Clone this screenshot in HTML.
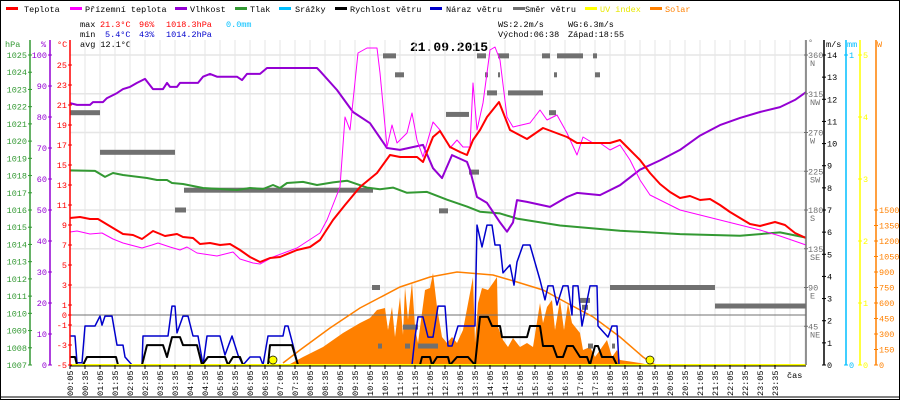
<!DOCTYPE html>
<html><head><meta charset="utf-8"><style>
html,body{margin:0;padding:0;background:#fff}
svg{display:block;font-family:"Liberation Mono",monospace;font-size:8.5px}
</style></head><body>
<svg id="chart" width="900" height="400" viewBox="0 0 900 400" xmlns="http://www.w3.org/2000/svg">
<rect x="0.5" y="0.5" width="899" height="399" fill="#fff" stroke="#000"/>
<g id="legend">
 <g><rect x="6" y="7" width="12" height="3" fill="#f00"/><text x="24" y="12">Teplota</text></g>
 <g><rect x="70" y="7" width="12" height="3" fill="#f0f"/><text x="85" y="12">Přízemní teplota</text></g>
 <g><rect x="175" y="7" width="12" height="3" fill="#9400d3"/><text x="190" y="12">Vlhkost</text></g>
 <g><rect x="235" y="7" width="12" height="3" fill="#339933"/><text x="250" y="12">Tlak</text></g>
 <g><rect x="279" y="7" width="12" height="3" fill="#00bfff"/><text x="295" y="12">Srážky</text></g>
 <g><rect x="335" y="7" width="12" height="3" fill="#000"/><text x="350" y="12">Rychlost větru</text></g>
 <g><rect x="430" y="7" width="12" height="3" fill="#0000cc"/><text x="446" y="12">Náraz větru</text></g>
 <g><rect x="513" y="7" width="12" height="3" fill="#707070"/><text x="525" y="12">Směr větru</text></g>
 <g><rect x="585" y="7" width="12" height="3" fill="#ff0"/><text x="600" y="12" fill="#e8e800">UV index</text></g>
 <g><rect x="650" y="7" width="12" height="3" fill="#ff8000"/><text x="665" y="12" fill="#ff8000">Solar</text></g>
</g>
<g>
 <text x="80" y="27">max</text><text x="100" y="27" fill="#f00">21.3°C</text><text x="139" y="27" fill="#f00">96%</text><text x="166" y="27" fill="#f00">1018.3hPa</text><text x="226" y="27" fill="#00bfff">0.0mm</text>
 <text x="80" y="37">min</text><text x="105" y="37" fill="#0000cc">5.4°C</text><text x="139" y="37" fill="#0000cc">43%</text><text x="166" y="37" fill="#0000cc">1014.2hPa</text>
 <text x="80" y="47">avg 12.1°C</text>
 <text x="498" y="27">WS:2.2m/s</text><text x="568" y="27">WG:6.3m/s</text>
 <text x="498" y="37">Východ:06:38</text><text x="568" y="37">Západ:18:55</text>
</g>
<text x="449" y="51" text-anchor="middle" font-size="13" font-weight="bold">21.09.2015</text>
<g id="g"></g>
</svg>
<script>
// ---- data (time in minutes from 00:05) ----
const tempT=[0,20,40,56,86,106,126,144,166,190,214,226,246,260,280,300,320,340,360,380,400,420,454,480,500,526,550,580,614,640,660,694,706,726,740,760,780,794,806,820,834,858,880,914,946,994,1014,1060,1080,1100,1120,1140,1160,1180,1200,1220,1240,1260,1280,1300,1320,1340,1360,1380,1410,1430,1450,1472];
const tempV=[9.7,9.8,9.6,9.6,8.7,8.1,8.0,7.6,8.4,7.9,8.1,7.8,7.7,7.1,7.2,7.0,7.1,6.5,5.8,5.3,5.7,5.8,6.5,6.8,7.5,9.5,11.0,12.8,14.2,16.0,15.8,15.8,15.3,17.8,18.4,16.8,16.3,16.0,17.5,18.5,19.8,21.3,18.5,17.6,18.7,17.8,17.2,17.2,17.2,17.5,16.5,15.5,14.2,13.1,12.3,11.7,11.9,11.5,11.6,11.0,10.3,9.7,9.1,8.9,9.3,9.0,8.2,7.7];
const feelT=[0,14,40,64,86,106,144,164,176,200,220,234,254,294,326,340,366,380,406,454,500,514,540,550,560,576,594,614,620,634,644,654,674,684,694,706,726,740,760,774,786,800,806,814,826,834,840,850,860,874,886,920,940,954,974,994,1014,1026,1046,1060,1080,1100,1120,1140,1160,1180,1220,1260,1300,1340,1380,1420,1472];
const feelV=[8.3,8.4,8.1,8.2,7.6,7.2,6.7,7.0,7.2,6.8,6.5,6.8,6.2,5.9,6.3,5.6,5.2,5.1,5.8,6.7,8.2,9.5,12.8,19.8,18.5,26.2,26.7,26.7,24.2,16.8,19.0,17.2,18.2,20.2,17.5,15.8,19.3,18.5,16.7,17.5,16.8,16.8,23.2,18.5,21.2,24.2,26.5,26.8,25.5,19.8,18.8,19.2,20.5,19.5,20.0,18.2,16.0,17.8,17.2,17.2,16.5,17.0,15.5,13.5,12.0,11.5,10.5,10.0,9.5,9.0,8.5,7.9,7.0];
const humT=[0,14,40,46,66,74,94,106,120,134,150,166,186,194,200,214,220,256,266,280,294,334,344,354,380,394,494,500,534,566,600,634,660,706,726,744,764,794,800,814,834,860,874,886,894,914,960,994,1014,1060,1100,1140,1180,1220,1260,1300,1340,1380,1420,1450,1472];
const humV=[84.5,83.9,83.9,84.8,84.8,86.1,87.7,89,89.7,91,92.3,89,89,91,89.7,89.7,91,91,93,93.9,93,93,91.9,93.9,93.9,95.8,95.8,94.8,88.7,81.6,78,70,69.4,71,63.5,60.3,67.7,65.5,62.9,54.2,52.3,46,43,46,53.2,52.6,51,54.2,55.5,54.8,58,63,66,69.4,74,77.4,79.7,81.6,83.2,85.5,88];
const presT=[0,50,70,86,106,154,174,194,204,226,266,334,360,386,406,420,434,466,494,526,554,594,620,646,674,714,754,794,820,860,894,980,1100,1220,1340,1420,1472];
const presV=[1018.3,1018.27,1017.92,1018.15,1018.03,1017.86,1017.74,1017.74,1017.57,1017.51,1017.28,1017.16,1017.28,1017.22,1017.45,1017.28,1017.57,1017.63,1017.45,1017.6,1017.7,1017.3,1017.2,1017.3,1017.0,1017.05,1016.6,1016.2,1015.9,1015.8,1015.5,1015.1,1014.8,1014.6,1014.5,1014.7,1014.4];
const windT=[0,10,14,26,34,92,96,144,154,186,194,204,220,226,254,264,276,310,316,326,340,346,396,400,444,456,700,704,720,724,734,756,760,774,796,810,820,836,844,860,864,914,920,940,946,966,974,986,994,1006,1020,1034,1040,1044,1050,1056,1064,1086,1094,1472];
const windV=[0.36,0.36,0,0,0.36,0.36,0,0,0.9,0.9,0.36,1.26,1.26,0.9,0.9,0,0.36,0.36,0,0.36,0.36,0,0,0.9,0.9,0,0,0.36,0.36,0,0.36,0.36,0,0.36,0.36,0,2.17,2.17,1.76,1.76,1.26,1.26,1.76,1.76,0.86,0.86,0.36,0.36,0.86,0.86,0.36,0.36,0,0.36,0.86,0.86,0.36,0.36,0,0];
const gustT=[0,10,14,24,30,50,60,64,70,84,94,106,110,124,144,146,196,204,210,214,226,236,246,256,266,274,300,310,324,336,346,360,380,386,396,426,430,436,446,456,684,690,696,706,716,726,736,750,756,764,776,794,800,810,814,824,834,844,850,860,866,880,888,894,906,920,940,950,956,966,974,986,996,1004,1006,1016,1024,1040,1054,1056,1076,1084,1094,1098,1472];
const gustV=[1.31,1.31,0.1,0.1,1.76,1.76,2.21,1.8,2.21,2.21,0.9,0.9,0.36,0,0,1.31,1.31,2.66,2.66,1.45,2.21,2.21,1.31,1.31,0,1.31,1.31,0.45,1.31,0.45,0,0.36,0.36,0,1.31,1.31,1.76,1.76,0.9,0,0,1.26,2.17,2.17,1.26,1.26,2.66,2.66,0.86,0.86,1.76,1.76,1.76,1.76,6.32,5.33,6.32,6.32,5.42,5.42,4.16,4.52,3.61,4.65,5.42,5.42,3.84,2.94,3.57,3.57,2.71,3.57,3.57,2.26,3.57,3.57,1.76,3.57,3.57,1.76,1.26,1.76,1.76,0,0];
const dirStart=[0,60,210,228,626,650,604,738,752,798,814,830,834,856,856,876,958,944,974,968,1046,1050,1080,1290,1020,666,616,670,696,1024,1036,1084];
const dirEnd=[60,210,232,606,652,668,620,756,798,818,832,836,854,878,860,946,972,960,1026,974,1054,1060,1290,1472,1040,696,624,680,736,1036,1046,1090];
const dirDeg=[293,247,180,203,359,337,90,179,291,224,359,337,316,359,337,316,293,359,359,337,359,337,90,68.5,75,44,22,22,22,67,22,22];
const solarT=[426,440,466,506,546,580,600,614,630,636,644,650,660,666,670,676,684,690,696,710,720,726,734,744,754,764,774,786,800,806,810,816,824,836,846,854,856,866,876,886,900,914,926,940,946,954,964,970,980,988,996,1004,1012,1020,1026,1040,1050,1060,1074,1084,1094,1100,1140,1160];
const solarV=[0,10,77,174,310,406,455,532,552,339,561,271,658,290,755,436,803,368,213,726,745,890,561,271,213,271,213,339,697,852,213,600,745,726,794,852,368,242,174,261,174,213,174,600,406,561,629,339,629,339,600,406,358,310,145,174,77,145,242,77,145,48,19,0];
const theoT=[426,460,520,580,660,720,774,846,894,946,994,1046,1100,1146,1170];
const theoV=[19,145,358,552,755,852,900,871,803,726,600,465,271,77,0];
const sunEvents=[406,1160];
const hourLabels=["00:05","00:35","01:05","01:35","02:05","02:35","03:05","03:35","04:05","04:35","05:05","05:35","06:05","06:35","07:05","07:35","08:05","08:35","09:05","09:35","10:05","10:35","11:05","11:35","12:05","12:35","13:05","13:35","14:05","14:35","15:05","15:35","16:05","16:35","17:05","17:35","18:05","18:35","19:05","19:35","20:05","20:35","21:05","21:35","22:05","22:35","23:05","23:35"];
const hpaTicks=[1007,1008,1009,1010,1011,1012,1013,1014,1015,1016,1017,1018,1019,1020,1021,1022,1023,1024,1025];
const pctTicks=[0,10,20,30,40,50,60,70,80,90,100];
const tempTicks=[-5,-3,-1,0,1,3,5,7,9,11,13,15,17,19,21,23,25];
const dirTicks=[45,90,135,180,225,270,315,360];
const dirNames=["NE","E","SE","S","SW","W","NW","N"];
const msTicks=[0,1,2,3,4,5,6,7,8,9,10,11,12,13,14];
const uvTicks=[0,1,2,3,4,5];
const wTicks=[0,150,300,450,600,750,900,1050,1200,1350,1500];

// ---- scales ----
const X0=70,X1=806,YB=365,YT=55;
const xS=m=>X0+m*0.5;
const yT=v=>YB-(v+5)*(YB-65)/30;
const yP=v=>YB-(v-1007)*(YB-YT)/18;
const yH=v=>YB-v*(YB-YT)/100;
const yW=v=>YB-v*(YB-YT)/14;
const yD=v=>YB-v*(YB-YT)/360;
const yUV=v=>YB-v*(YB-YT)/5;
const ySol=v=>YB-v*155/1500;

const NS="http://www.w3.org/2000/svg";
const G=document.getElementById('g');
function mk(tag,attrs,parent){const e=document.createElementNS(NS,tag);for(const k in attrs)e.setAttribute(k,attrs[k]);(parent||G).appendChild(e);return e;}
function pts(T,V,ys){return T.map((t,i)=>xS(t).toFixed(1)+','+ys(V[i]).toFixed(1)).join(' ');}

// grid
const grid=mk('g',{});


for(let x=X0+15;x<X1;x+=15){mk('line',{x1:x,y1:40,x2:x,y2:YB,stroke:'#e6e6e6','stroke-width':1},grid);}
dirTicks.forEach(d=>{mk('line',{x1:X0,y1:yD(d),x2:X1,y2:yD(d),stroke:'#e6e6e6','stroke-width':1.5},grid);});

// solar fill
const sol=mk('polygon',{points:xS(solarT[0])+','+YB+' '+pts(solarT,solarV,ySol)+' '+xS(solarT[solarT.length-1])+','+YB,fill:'#ff8000'});



// zero line
const zl=mk('line',{x1:X0,y1:yT(0),x2:X1,y2:yT(0),stroke:'#707070','stroke-width':1});



const theo=mk('polyline',{points:pts(theoT,theoV,ySol),fill:'none',stroke:'#ff8000','stroke-width':1.5});



// wind direction
const dg=mk('g',{});


dirDeg.forEach((d,i)=>{
 const r=mk('rect',{x:xS(dirStart[i]),y:yD(d)-2.5,width:Math.max(2,xS(dirEnd[i])-xS(dirStart[i])),height:5,fill:'#707070'},dg);
 
 
});

function line(T,V,ys,color,w,name){
 const p=mk('polyline',{points:pts(T,V,ys),fill:'none',stroke:color,'stroke-width':w,'stroke-linejoin':'round'});
 
 
}
line(presT,presV,yP,'#339933',2,'pressure-line');
line(humT,humV,yH,'#9400d3',2,'humidity-line');
line(feelT,feelV,yT,'#ff00ff',1,'feels-like-line');
line(tempT,tempV,yT,'#ff0000',2,'temperature-line');
line(gustT,gustV,yW,'#0000cc',1.5,'wind-gust-line');
line(windT,windV,yW,'#000000',2,'wind-speed-line');

const uvl=mk('line',{x1:X0,y1:YB,x2:X1,y2:YB,stroke:'#ffff00','stroke-width':2});



sunEvents.forEach(t=>{
 const c=mk('circle',{cx:xS(t),cy:YB-5,r:4,fill:'#ffff00',stroke:'#000','stroke-width':0.7});
 
 
});

// x axis
const xa=mk('g',{});


mk('line',{x1:X0,y1:YB+1,x2:X1,y2:YB+1,stroke:'#000'},xa);
hourLabels.forEach((l,i)=>{
 const x=X0+i*15;
 mk('line',{x1:x,y1:YB,x2:x,y2:YB+4,stroke:'#000'},xa);
 const t=mk('text',{x:0,y:0,transform:'translate('+(x+3)+','+(YB+31)+') rotate(-90)'},xa);
 t.textContent=l;
 
 
});
const cas=mk('text',{x:787,y:378},xa);cas.textContent='čas';


mk('line',{x1:0,y1:397,x2:900,y2:397,stroke:'#000'},xa);

// vertical axes
function axis(name,x,color,ticks,ys,side,title,tx,fmt){
 const g=mk('g',{});
 
 
 mk('line',{x1:x,y1:40,x2:x,y2:YB,stroke:color,'stroke-width':1.5},g);
 ticks.forEach(v=>{
  const y=ys(v);
  mk('line',{x1:x-2,y1:y,x2:x+2,y2:y,stroke:color},g);
  const t=mk('text',{x:side<0?x-3:x+3,y:y+3,fill:color,'text-anchor':side<0?'end':'start'},g);
  t.textContent=fmt?fmt(v):v;
 });
 const h=mk('text',{x:tx,y:47,fill:color},g);h.textContent=title;
}
axis('hpa-axis',30,'#339933',hpaTicks,yP,-1,'hPa',5);
axis('humidity-axis',50,'#9400d3',pctTicks,yH,-1,'%',41);
axis('celsius-axis',70,'#ff0000',tempTicks,yT,-1,'°C',57);
axis('wind-speed-axis',824,'#000',msTicks,yW,1,'m/s',826);
axis('rain-axis',846,'#00bfff',[0,1],v=>v?YT:YB,1,'mm',847);
axis('uv-axis',860,'#ffff00',uvTicks,yUV,1,'',861);
axis('solar-axis',876,'#ff8000',wTicks,ySol,1,'W',877);
// direction axis
const da=mk('g',{});


mk('line',{x1:806,y1:40,x2:806,y2:YB,stroke:'#707070','stroke-width':1.5},da);
const dh=mk('text',{x:808,y:45,fill:'#707070'},da);dh.textContent='°';
dirTicks.forEach((d,i)=>{
 const y=yD(d);
 mk('line',{x1:804,y1:y,x2:808,y2:y,stroke:'#707070'},da);
 const t=mk('text',{x:808,y:y+3,fill:'#707070'},da);t.textContent=d;
 const n=mk('text',{x:810,y:y+11,fill:'#707070'},da);n.textContent=dirNames[i];
});
</script>
</body></html>
